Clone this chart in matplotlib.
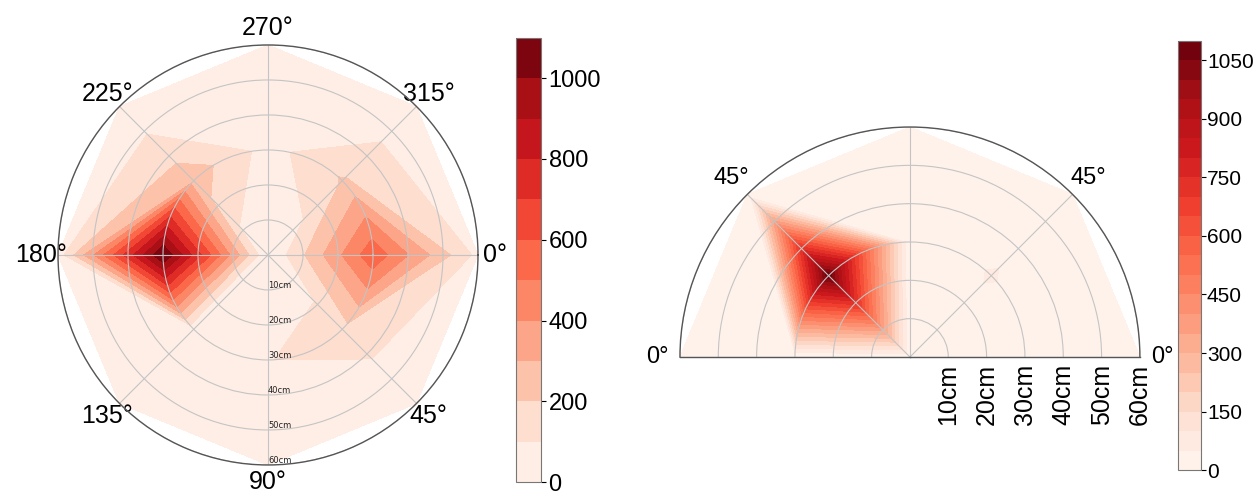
#!/usr/bin/env python3
import numpy as np
import matplotlib
matplotlib.use("Agg")
import matplotlib.pyplot as plt
from matplotlib.transforms import offset_copy

plt.rcParams['font.family'] = ['Liberation Sans', 'DejaVu Sans']

# --- left chart: full circle, values per angle at r = 0, 30, 60 cm ---
left_angles = [0, 45, 90, 135, 180, 225, 270, 315, 360]
radii = [0, 30, 60]
left_r0 = [0, 0, 0, 0, 0, 0, 0, 0, 0]
left_r30 = [570, 160, 95, 30, 1100, 260, 60, 210, 570]
left_r60 = [70, 10, 10, 10, 40, 5, 20, 0, 70]
left_theta_labels = ['0°', '45°', '90°', '135°', '180°', '225°', '270°', '315°']
left_levels = np.arange(0, 1101, 100)
left_cbar_ticks = [0, 200, 400, 600, 800, 1000]

# --- right chart: half circle ---
right_angles = [0, 45, 90, 135, 180]
right_r0 = [0, 0, 0, 0, 0]
right_r30 = [0, 55, 0, 1090, 0]
right_r60 = [0, 0, 0, 0, 0]
right_theta_labels = ['0°', '45°', '', '45°', '0°']
right_levels = np.arange(0, 1101, 50)
right_cbar_ticks = [0, 150, 300, 450, 600, 750, 900, 1050]

ring_values = [10, 20, 30, 40, 50, 60]
ring_labels = ['10cm', '20cm', '30cm', '40cm', '50cm', '60cm']

GRID = '#c4c4c4'
SPINE = '#555555'


def style_polar(ax, size, pad):
    ax.set_ylim(0, 60)
    ax.set_yticks(ring_values)
    ax.set_yticklabels([])
    ax.grid(True, color=GRID, linewidth=0.8)
    ax.spines['polar'].set_color(SPINE)
    ax.spines['polar'].set_linewidth(1.0)
    ax.tick_params(axis='x', labelsize=size, pad=pad)


fig = plt.figure(figsize=(12.55, 4.98), dpi=100)

# left polar
ax1 = fig.add_axes([0.0462, 0.0663, 0.3347, 0.8434], projection='polar')
th = np.deg2rad(left_angles)
T, R = np.meshgrid(th, radii)
Z1 = np.array([left_r0, left_r30, left_r60])
cs1 = ax1.contourf(T, R, Z1, levels=left_levels, cmap='Reds')
ax1.set_theta_zero_location('E')
ax1.set_theta_direction(-1)
ax1.set_xticks(np.deg2rad(left_angles[:-1]))
ax1.set_xticklabels(left_theta_labels)
style_polar(ax1, 18, 2)
for r, lab in zip(ring_values, ring_labels):
    ax1.text(np.deg2rad(90), r, lab, fontsize=6, ha='left', va='bottom',
             family='DejaVu Sans', color='#222222')

cax1 = fig.add_axes([0.411, 0.032, 0.020, 0.892])
cb1 = fig.colorbar(cs1, cax=cax1, ticks=left_cbar_ticks)
cb1.ax.tick_params(labelsize=17, pad=2)
cb1.outline.set_edgecolor('#777777')

# right polar (half) - square box, wedge sits centred in it
ax2 = fig.add_axes([0.5418, 0.0522, 0.3665, 0.9237], projection='polar')
th2 = np.deg2rad(right_angles)
T2, R2 = np.meshgrid(th2, radii)
Z2 = np.array([right_r0, right_r30, right_r60])
cs2 = ax2.contourf(T2, R2, Z2, levels=right_levels, cmap='Reds')
ax2.set_thetamin(0)
ax2.set_thetamax(180)
ax2.set_xticks(th2)
ax2.set_xticklabels(right_theta_labels)
style_polar(ax2, 17, 6)
for s in ['start', 'end']:
    ax2.spines[s].set_color(SPINE)
    ax2.spines[s].set_linewidth(1.0)
lab_tr = offset_copy(ax2.transData, fig=fig, y=-5, units='points')
for r, lab in zip(ring_values, ring_labels):
    ax2.text(0, r, lab, fontsize=18, rotation=90, ha='center', va='top',
             transform=lab_tr)

cax2 = fig.add_axes([0.9387, 0.056, 0.018, 0.862])
cb2 = fig.colorbar(cs2, cax=cax2, ticks=right_cbar_ticks)
cb2.ax.tick_params(labelsize=15, pad=1)
cb2.outline.set_edgecolor('#777777')

fig.savefig('out.png', dpi=100)
